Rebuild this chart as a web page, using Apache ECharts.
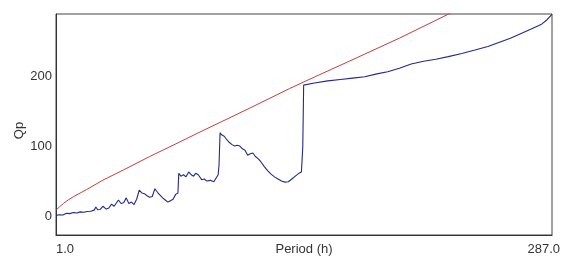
<!DOCTYPE html>
<html>
<head>
<meta charset="utf-8">
<script src="https://cdn.jsdelivr.net/npm/echarts@6/dist/echarts.min.js"></script>
<style>html,body{margin:0;padding:0;background:#fff}#c{width:561px;height:260px}</style>
</head>
<body>
<div id="c"></div>
<script>
// X range and tick labels
const xMin = 1.0, xMax = 287.0;
const xTickLabels = [1.0, 287.0];
const yTickLabels = [0, 100, 200];
const yMin = -26, yMax = 289.5;

// Blue series (observed Qp)
const bluePeriods = [1,3,5,7,9,11,13,15,17,19,21,23,24,25,26.5,28,30,31.5,33,34.5,35.5,37,38.5,40,41.5,43,44.5,46,47.5,49,50.5,52,53.5,55,56.5,58,59.5,61,62.5,64,65.5,67,68.5,70,71.3,71.8,73,74.5,76,77.5,79,80.3,81.5,83,85,86.5,88,90,92,93.5,94.5,95,95.6,96.5,98,99.5,101,102.5,104,105.5,107,108.5,110,111.5,113,114.5,116,117.5,119,121,123,125,127,129,131,133,135,137,139,141,142.5,143.3,143.8,150,157.7,165,172,179,186,192.3,199,205.8,213,220,227.2,235,242.6,250,257.5,263,269.5,275,281,284,287];
const blueValues  = [2,3,2.5,5,4.5,6,5.5,7,6.5,7.5,8,9.5,14,10,10.5,15,11,12.5,18,15,16.5,24,19,20,27,19,21,17.5,25,38,34,33,30,28,29,40,35,31,27,24,21,23,25,32,34,62,58,60,57,64,60,58,62,60,53,54,51,52,50,56,60,74,120,117,115,110,106,103,101,102,101,97,95,88,90,91,86,83,79,72,66,61,57,54,51,49.5,50,54,58,62,64,100,188,191,194,196,198,200,204,207,212,218,222,225,228.6,233,238,243,250,255,262,268,275,281,289];

// Red series (reference curve)
const redPeriods = [1,3,5.3,8,11,18.7,28.1,40,55,70,84,100,112.6,135.6,150,170,199,227,260,287];
const redValues  = [9.5,14,19,24,28.6,39,52.4,67,86,104,121,140,155,183,199.5,222,255,289,327,358];

const zip = (a, b) => a.map((v, i) => [v, b[i]]);

const font = 'Liberation Sans';
const chart = echarts.init(document.getElementById('c'));
chart.setOption({
  animation: false,
  grid: { left: 56, right: 9, top: 14, bottom: 25, containLabel: false, outerBoundsMode: 'none',
          show: true, borderColor: '#444', borderWidth: 1, backgroundColor: '#fff' },
  xAxis: {
    type: 'value', min: xMin, max: xMax,
    name: 'Period (h)', nameLocation: 'middle', nameGap: 8, nameMoveOverlap: false,
    nameTextStyle: { fontFamily: font, fontSize: 13, color: '#333', verticalAlign: 'top' },
    axisLine: { show: true, onZero: false, lineStyle: { color: '#333' } },
    axisTick: { show: false },
    splitLine: { show: false },
    axisLabel: {
      customValues: xTickLabels, margin: 8,
      fontFamily: font, fontSize: 13, color: '#333',
      formatter: v => v.toFixed(1),
      alignMinLabel: 'left', alignMaxLabel: 'right',
      padding: [0, -8, 0, 0]
    }
  },
  yAxis: {
    type: 'value', min: yMin, max: yMax,
    name: 'Qp', nameLocation: 'middle', nameGap: 30, nameRotate: 90, nameMoveOverlap: false,
    nameTextStyle: { fontFamily: font, fontSize: 13, color: '#333', padding: [0, 12, 0, 0] },
    axisLine: { show: true, onZero: false, lineStyle: { color: '#333' } },
    axisTick: { show: false },
    splitLine: { show: false },
    axisLabel: { customValues: yTickLabels, margin: 4, fontFamily: font, fontSize: 13, color: '#333' }
  },
  series: [
    { type: 'line', data: zip(redPeriods, redValues), showSymbol: false, symbol: 'none', clip: true,
      lineStyle: { color: '#c0403c', width: 1 } },
    { type: 'line', data: zip(bluePeriods, blueValues), showSymbol: false, symbol: 'none', clip: true,
      lineStyle: { color: '#23288c', width: 1.1 } }
  ]
});
</script>
</body>
</html>
